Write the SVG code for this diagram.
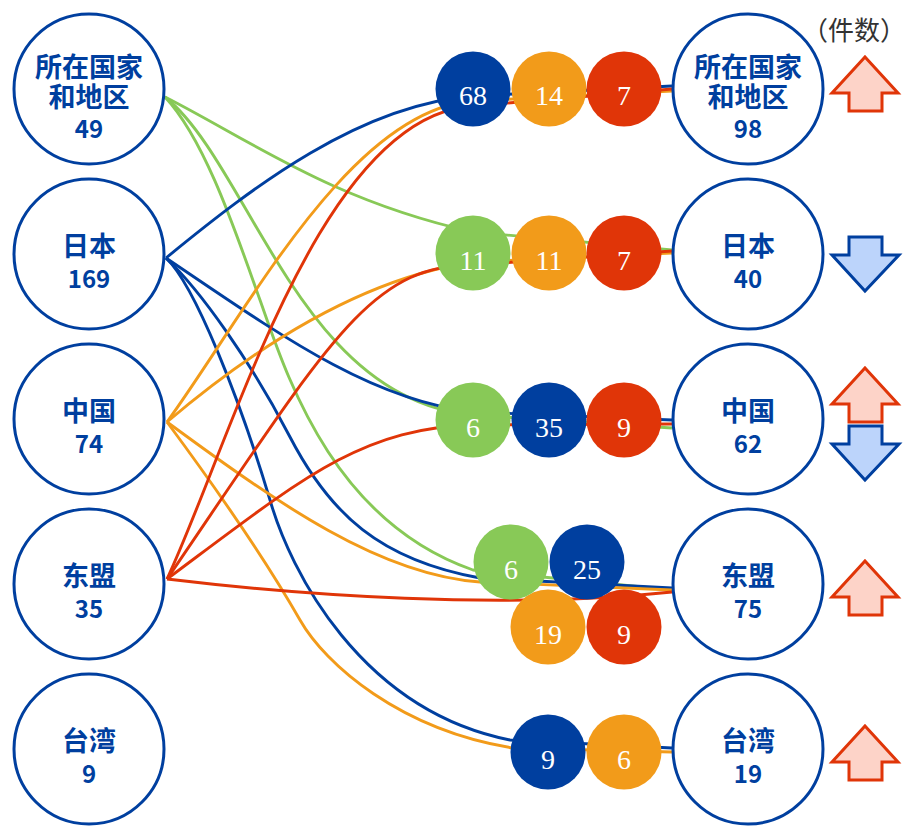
<svg xmlns="http://www.w3.org/2000/svg" width="907" height="830" viewBox="0 0 907 830">
<style>
.node circle{fill:#fff;stroke:#003f9f;stroke-width:3}
.lbl{fill:#003f9f;font-family:"Noto Sans CJK SC","Noto Sans",sans-serif;font-weight:bold;text-anchor:middle}
.cjk{font-size:27px}
.num{font-size:24px}
.link{fill:none;stroke-width:2.9}
.b{stroke:#003f9f}.o{stroke:#f29b1a}.r{stroke:#e03508}.g{stroke:#88c957}
.dot text{fill:#fff;font-family:"Liberation Serif",serif;font-size:28px;text-anchor:middle}
.fb{fill:#003f9f}.fo{fill:#f29b1a}.fr{fill:#e03508}.fg{fill:#88c957}
.up{fill:#fdd3c8;stroke:#e03508;stroke-width:3}
.down{fill:#bcd4fb;stroke:#003f9f;stroke-width:3}
.unit{fill:#333;font-family:"Noto Sans CJK SC",sans-serif;font-size:26px;text-anchor:end}
</style>
<defs>
<path id="arrUp" d="M0,0 L33,36 L17,36 L17,54 L-16,54 L-16,36 L-33,36 Z"/>
<path id="arrDown" d="M-16,0 L17,0 L17,18 L34,18 L0,54 L-33,18 L-16,18 Z"/>
</defs>
<rect width="907" height="830" fill="#fff"/>
<g id="connectors">
<path class="link g" d="M165,97 C250,140 330,200 473,232 L672,250"/>
<path class="link g" d="M165,97 C250,165 300,400 473,415 L672,428"/>
<path class="link g" d="M165,97 C205,140 235,230 260,300 S330,520 473,570 L672,590"/>
<path class="link b" d="M166,258 C255,185 360,105 473,96 L672,86"/>
<path class="link b" d="M166,258 C280,335 370,400 473,412 L672,420"/>
<path class="link b" d="M166,258 C200,290 250,360 290,437 S380,560 480,578 L672,588"/>
<path class="link b" d="M166,258 C195,285 240,400 270,500 C290,570 360,710 510,740 L672,748"/>
<path class="link o" d="M167,422 C247,312 350,110 473,101 L672,91"/>
<path class="link o" d="M167,422 C240,360 350,280 473,262 L672,253"/>
<path class="link o" d="M167,422 C280,505 380,575 480,582 L672,590"/>
<path class="link o" d="M167,422 C210,480 260,550 300,620 C325,664 400,730 513,748 L672,752"/>
<path class="link r" d="M167,579 C232,440 320,115 473,106 L672,89"/>
<path class="link r" d="M167,579 C330,340 370,265 473,265 L672,251"/>
<path class="link r" d="M167,579 C300,480 360,428 473,425 L672,424"/>
<path class="link r" d="M167,579 C300,595 500,610 672,592"/>
</g>
<g id="flows" class="dot">
<g id="f1"><circle class="fb" cx="473" cy="89" r="37.5"/><text x="473" y="105">68</text>
<circle class="fo" cx="549" cy="89" r="37.5"/><text x="549" y="105">14</text>
<circle class="fr" cx="624" cy="89" r="37.5"/><text x="624" y="105">7</text></g>
<g id="f2"><circle class="fg" cx="473" cy="253" r="37.5"/><text x="473" y="270">11</text>
<circle class="fo" cx="549" cy="253" r="37.5"/><text x="549" y="270">11</text>
<circle class="fr" cx="624" cy="253" r="37.5"/><text x="624" y="270">7</text></g>
<g id="f3"><circle class="fg" cx="473" cy="420" r="37.5"/><text x="473" y="437">6</text>
<circle class="fb" cx="549" cy="420" r="37.5"/><text x="549" y="437">35</text>
<circle class="fr" cx="624" cy="420" r="37.5"/><text x="624" y="437">9</text></g>
<g id="f4"><circle class="fo" cx="548" cy="627" r="37.5"/><text x="548" y="644">19</text>
<circle class="fr" cx="624" cy="627" r="37.5"/><text x="624" y="644">9</text>
<circle class="fg" cx="511" cy="562" r="37.5"/><text x="511" y="579">6</text>
<circle class="fb" cx="587" cy="562" r="37.5"/><text x="587" y="579">25</text></g>
<g id="f5"><circle class="fb" cx="548" cy="752" r="37.5"/><text x="548" y="769">9</text>
<circle class="fo" cx="624" cy="752" r="37.5"/><text x="624" y="769">6</text></g>
</g>
<g id="L1" class="node"><circle cx="89" cy="89" r="75"/><text class="lbl"><tspan class="cjk" x="89" y="77">所在国家</tspan><tspan class="cjk" x="89" y="107">和地区</tspan><tspan class="num" x="89" y="138">49</tspan></text></g>
<g id="L2" class="node"><circle cx="89" cy="254" r="75"/><text class="lbl"><tspan class="cjk" x="89" y="256">日本</tspan><tspan class="num" x="89" y="288">169</tspan></text></g>
<g id="L3" class="node"><circle cx="89" cy="419" r="75"/><text class="lbl"><tspan class="cjk" x="89" y="421">中国</tspan><tspan class="num" x="89" y="453">74</tspan></text></g>
<g id="L4" class="node"><circle cx="89" cy="584" r="75"/><text class="lbl"><tspan class="cjk" x="89" y="586">东盟</tspan><tspan class="num" x="89" y="618">35</tspan></text></g>
<g id="L5" class="node"><circle cx="89" cy="749" r="75"/><text class="lbl"><tspan class="cjk" x="89" y="751">台湾</tspan><tspan class="num" x="89" y="783">9</tspan></text></g>
<g id="R1" class="node"><circle cx="748" cy="89" r="75"/><text class="lbl"><tspan class="cjk" x="748" y="77">所在国家</tspan><tspan class="cjk" x="748" y="107">和地区</tspan><tspan class="num" x="748" y="138">98</tspan></text></g>
<g id="R2" class="node"><circle cx="748" cy="254" r="75"/><text class="lbl"><tspan class="cjk" x="748" y="256">日本</tspan><tspan class="num" x="748" y="288">40</tspan></text></g>
<g id="R3" class="node"><circle cx="748" cy="419" r="75"/><text class="lbl"><tspan class="cjk" x="748" y="421">中国</tspan><tspan class="num" x="748" y="453">62</tspan></text></g>
<g id="R4" class="node"><circle cx="748" cy="584" r="75"/><text class="lbl"><tspan class="cjk" x="748" y="586">东盟</tspan><tspan class="num" x="748" y="618">75</tspan></text></g>
<g id="R5" class="node"><circle cx="748" cy="749" r="75"/><text class="lbl"><tspan class="cjk" x="748" y="751">台湾</tspan><tspan class="num" x="748" y="783">19</tspan></text></g>
<g id="arrows">
<use href="#arrUp" class="up" x="865" y="57"/>
<use href="#arrDown" class="down" x="865" y="237"/>
<use href="#arrUp" class="up" x="865" y="368"/>
<use href="#arrDown" class="down" x="865" y="426"/>
<use href="#arrUp" class="up" x="865" y="561"/>
<use href="#arrUp" class="up" x="865" y="726"/>
</g>
<text class="unit" x="906" y="40">（件数）</text>
</svg>
